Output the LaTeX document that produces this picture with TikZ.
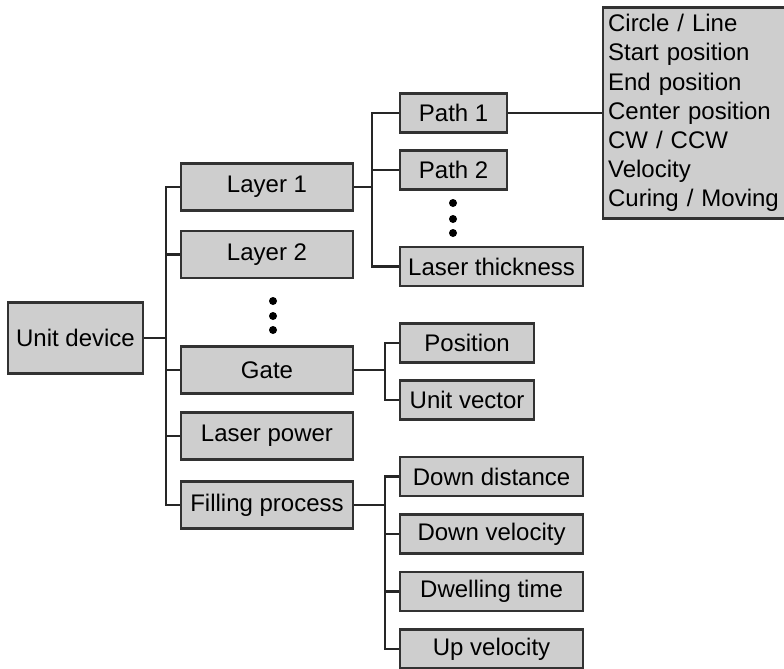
\documentclass[tikz,border=0pt]{standalone}
\usepackage{fontspec}
\setmainfont{Liberation Sans}
\usepackage{xcolor}
\usepackage{tikz}
\usetikzlibrary{positioning}

\definecolor{boxgray}{RGB}{206,206,206}
\definecolor{edgegray}{RGB}{50,50,50}

\begin{document}
\begin{tikzpicture}[x=0.5pt, y=-0.5pt]
        \tikzstyle{block} = [rectangle, draw=edgegray, fill=boxgray, line width=1.1pt, minimum width=86pt, minimum height=23.5pt, inner sep=0pt, font=\fontsize{12}{14.6}\selectfont]
        \tikzstyle{subblock} = [block, anchor=west, minimum height=19.5pt]
        \tikzstyle{line} = [draw, line width=1.1pt, black!85]
        \useasboundingbox (0,0) rectangle (784,669);

        % Nodes
        \node [block, minimum width=67.5pt, minimum height=35.5pt] (unit) at (75.5,338) {Unit device};
        \node [block] (layer1) at (267,187) {Layer 1};
        \node [block] (layer2) at (267,254.5) {Layer 2};
        \node [block] (gate) at (267,370) {Gate};
        \node [block] (power) at (267,436) {Laser power};
        \node [block] (filling) at (267,505) {Filling process};

        \node [subblock, minimum width=53.5pt] (path1) at (399,113) {Path 1};
        \node [subblock, minimum width=53.5pt] (path2) at (399,170) {Path 2};
        \node [subblock, minimum width=91.5pt] (thickness) at (399,266.5) {Laser thickness};
        \node [subblock, minimum width=67pt] (position) at (399,343) {Position};
        \node [subblock, minimum width=67pt] (vector) at (399,400) {Unit vector};
        \node [subblock, minimum width=91.5pt] (downdist) at (399,476.5) {Down distance};
        \node [subblock, minimum width=91.5pt] (downvel) at (399,534) {Down velocity};
        \node [subblock, minimum width=91.5pt] (dwell) at (399,591.5) {Dwelling time};
        \node [subblock, minimum width=91.5pt] (upvel) at (399,649) {Up velocity};

        \node [block, anchor=west, minimum height=105.5pt, text width=86pt, inner xsep=2.5pt, align=left] (params) at (602,113) {Circle / Line\\ Start position\\ End position\\ Center position\\ CW / CCW\\ Velocity\\ Curing / Moving};

        % Branch points
        \coordinate (trunk) at (166,338);
        \coordinate (split1) at (372,187);
        \coordinate (split2) at (385,370);
        \coordinate (split3) at (385,505);

        % Dots
        \foreach \y in {301,316,330} \fill (273,\y) circle (4);
        \foreach \y in {203,219,233} \fill (453,\y) circle (4);

        % Paths
        \path [line] (unit) -- (trunk);
        \foreach \n in {layer1, layer2, gate, power, filling}
            \path [line] (trunk) |- (\n.west);
        \path [line] (layer1) -- (split1);
        \foreach \n in {path1, path2, thickness}
            \path [line] (split1) |- (\n.west);
        \path [line] (gate) -- (split2);
        \foreach \n in {position, vector}
            \path [line] (split2) |- (\n.west);
        \path [line] (filling) -- (split3);
        \foreach \n in {downdist, downvel, dwell, upvel}
            \path [line] (split3) |- (\n.west);
        \path [line] (path1) -- (params);
    \end{tikzpicture}
\end{document}
